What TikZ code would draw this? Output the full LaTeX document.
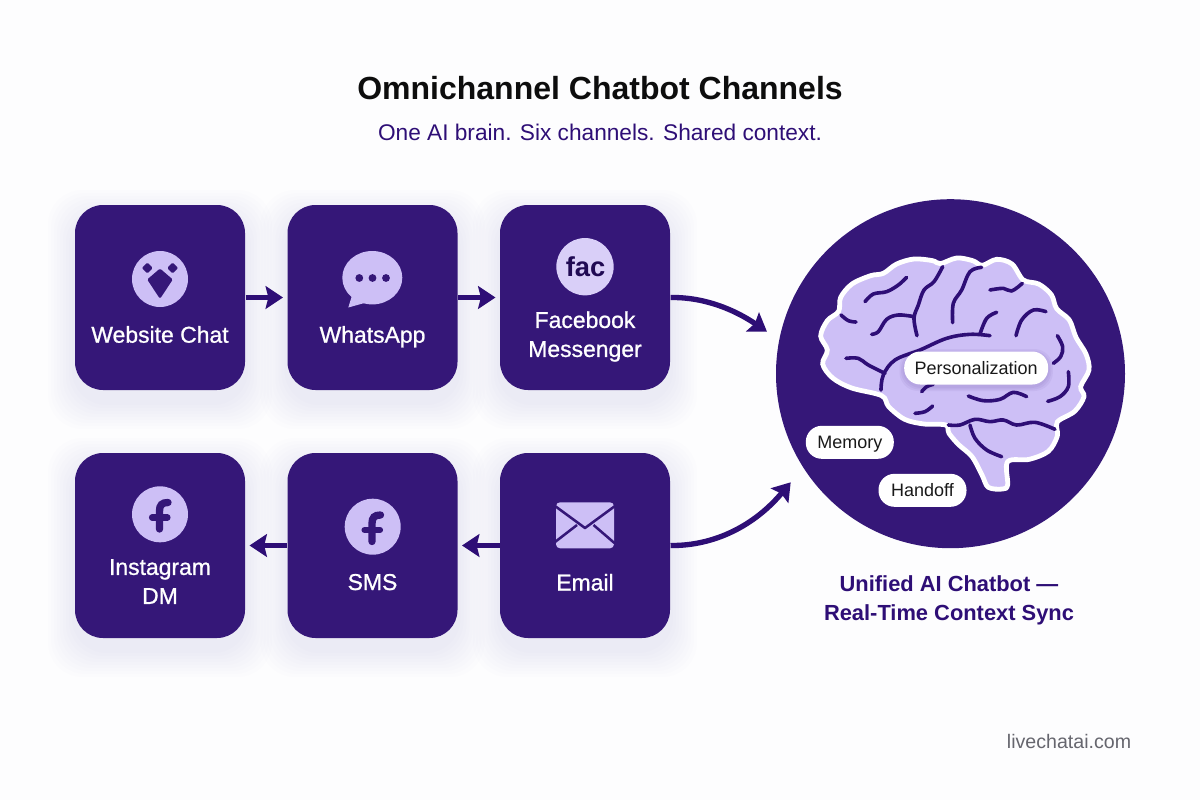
\documentclass[tikz,border=0pt]{standalone}
\usepackage{fontspec}
\setmainfont{Liberation Sans}
\newfontfamily\labelfont{Liberation Sans}[FakeBold=0.9]
\usetikzlibrary{arrows.meta}

\definecolor{pageWhite}{RGB}{253,253,254}
\definecolor{deepPurple}{RGB}{53,23,120}
\definecolor{inkPurple}{RGB}{46,14,118}
\definecolor{softLilac}{RGB}{205,191,246}
\definecolor{paleLilac}{RGB}{217,207,248}
\definecolor{glowLilac}{RGB}{140,105,240}
\definecolor{markGrey}{RGB}{102,102,110}

\tikzset{every picture/.style={line width=0.75pt}}
\tikzset{
	channelbox/.style={rectangle,rounded corners=21pt,fill=deepPurple,minimum width=127.5pt,minimum height=138.75pt,inner sep=0pt},
	boxglow/.style={fill=glowLilac,opacity=0.012,rounded corners=26pt},
	boxlabel/.style={text=white,align=center,inner sep=0pt,font=\labelfont\fontsize{17.2}{21.75}\selectfont},
	icondisc/.style={circle,fill=softLilac,minimum size=42pt,inner sep=0pt},
	icondark/.style={fill=deepPurple,rounded corners=1pt},
	fglyph/.style={draw=deepPurple,line width=5.5pt,line cap=round},
	flowarrow/.style={draw=inkPurple,line width=4pt,-{Stealth[length=13pt,width=17pt,inset=2pt]}},
	brainskin/.style={draw=white,line width=3.6pt,fill=softLilac},
	sulcus/.style={draw=inkPurple,line width=2.7pt,line cap=round,line join=round},
	tagpill/.style={rectangle,rounded corners=12pt,fill=white,text=black!90,inner sep=0pt,minimum height=24.75pt,text height=12pt,text depth=3pt,font=\fontsize{13.5}{16}\selectfont},
}

\begin{document}
\begin{tikzpicture}[x=0.75pt,y=0.75pt,yscale=-1,xscale=1]
	\useasboundingbox (0,0) rectangle (1200,800);
	\fill [pageWhite] (0,0) rectangle (1200,800);

	% Text Node
	\draw (600,88) node (titleText) [font=\bfseries\fontsize{24}{28}\selectfont,text=black!95] {Omnichannel Chatbot Channels};
	% Text Node
	\draw (600,132) node (subtitleText) [font=\fontsize{17}{21}\selectfont,text=inkPurple] {One AI brain. Six channels. Shared context.};

	%Shape: soft glow under the boxes
	\foreach \cx/\cy in {160/297.5,372.5/297.5,585/297.5,160/545.5,372.5/545.5,585/545.5}
		\foreach \g in {3,6,...,27}
			\fill [boxglow] (\cx-85-\g,\cy-92.5-\g+12) rectangle (\cx+85+\g,\cy+92.5+\g+12);

	%Shape: Rounded Rect
	\node (webBox) [channelbox] at (160,297.5) {};
	\node (whatsBox) [channelbox] at (372.5,297.5) {};
	\node (fbBox) [channelbox] at (585,297.5) {};
	\node (igBox) [channelbox] at (160,545.5) {};
	\node (smsBox) [channelbox] at (372.5,545.5) {};
	\node (mailBox) [channelbox] at (585,545.5) {};

	%Shape: Circle
	\node (brainDisc) [circle,fill=deepPurple,minimum size=261.75pt,inner sep=0pt] at (950.5,373.7) {};

	%Straight Lines
	\draw [flowarrow,shorten >=3pt] (webBox.east) -- (whatsBox.west);
	\draw [flowarrow,shorten >=3pt] (whatsBox.east) -- (fbBox.west);
	\draw [flowarrow,shorten >=3pt] (mailBox.west) -- (smsBox.east);
	\draw [flowarrow,shorten >=3pt] (smsBox.west) -- (igBox.east);

	\coordinate (fbEnd) at (767,331.7);
	\coordinate (mailEnd) at (790.7,482.3);
	%Curve Lines
	\draw [flowarrow] (fbBox.east) .. controls (705,297) and (735,310) .. (fbEnd);
	%Curve Lines
	\draw [flowarrow] (mailBox.east) .. controls (715,546) and (755,525) .. (mailEnd);

	%Shape: Website icon
	\node (webIcon) [icondisc] at (160,279) {};
	\fill [icondark] (160,268.5) -- (172.8,279.5) -- (160,298.8) -- (147.2,279.5) -- cycle;
	\fill [icondark] (147.3,262.5) -- (152.8,268) -- (147.3,273.5) -- (141.8,268) -- cycle;
	\fill [icondark] (172.7,262.5) -- (178.2,268) -- (172.7,273.5) -- (167.2,268) -- cycle;

	%Shape: Speech bubble
	\fill [softLilac] (372.3,277.7) ellipse (30 and 26.7);
	\fill [softLilac] (352.5,294) -- (348.3,307.5) -- (368,302) -- cycle;
	\fill [deepPurple] (359.3,278) circle (3.9);
	\fill [deepPurple] (372.5,278) circle (3.9);
	\fill [deepPurple] (386,278) circle (3.9);

	%Shape: Messenger icon
	\node (fbIcon) [icondisc,fill=paleLilac,minimum size=43pt] at (585,266.7) {};
	\draw (585.5,266.5) node (fbMark) [font=\bfseries\fontsize{20.5}{24}\selectfont,text=inkPurple!70!black,inner sep=0pt] {fac};

	%Shape: Instagram icon
	\node (igIcon) [icondisc] at (160,514.3) {};
	\draw [fglyph] (159.5,529) -- (159.5,511) .. controls (159.5,505) and (162,502.5) .. (168,502.5);
	\draw [fglyph,line width=4.6pt] (152,517.5) -- (167.5,517.5);

	%Shape: SMS icon
	\node (smsIcon) [icondisc] at (372.7,526.7) {};
	\draw [fglyph] (372,541.5) -- (372,523.5) .. controls (372,517.5) and (374.5,515) .. (380.5,515);
	\draw [fglyph,line width=4.6pt] (364.5,530) -- (380,530);

	%Shape: Envelope
	\fill [softLilac,rounded corners=3pt] (556,502.3) rectangle (614,548.3);
	\draw [draw=deepPurple,line width=1.9pt,line join=round] (555,506) -- (585,528) -- (615,506);
	\draw [draw=deepPurple,line width=1.9pt] (555,542) -- (577,525);
	\draw [draw=deepPurple,line width=1.9pt] (615,543.5) -- (593.5,525);

	% Text Node
	\draw (160,342.7) node (webLabel) [boxlabel,anchor=base] {Website Chat};
	% Text Node
	\draw (372.5,342.7) node (whatsLabel) [boxlabel,anchor=base] {WhatsApp};
	% Text Node
	\draw (585,336.5) node (fbLabel) [boxlabel] {Facebook\\Messenger};
	% Text Node
	\draw (160,581.5) node (igLabel) [boxlabel] {Instagram\\DM};
	% Text Node
	\draw (372.5,590) node (smsLabel) [boxlabel,anchor=base] {SMS};
	% Text Node
	\draw (585,590.5) node (mailLabel) [boxlabel,anchor=base] {Email};

	%Shape: Brain (traced at 3x, same frame as the crop)
	\begin{scope}[shift={(770,190)},scale=0.33333]
		\draw [brainskin] plot [smooth cycle,tension=0.55] coordinates {
			(335,617) (245,594) (188,564) (158,522) (172,480) (152,438) (172,392) (206,364)
			(212,322) (246,282) (302,257) (340,250) (380,222) (432,207) (488,212) (511,221)
			(560,204) (608,212) (637,226) (680,208) (726,222) (760,270) (806,282) (844,314)
			(860,356) (898,390) (918,442) (948,492) (957,540) (932,590) (942,620) (914,664)
			(862,696) (862,738) (835,784) (778,808) (713,815) (713,884) (698,897) (655,892)
			(636,855) (606,800) (566,764) (537,730) (527,705) (462,702) (404,688) (356,650)
		};
		%Curve Lines
		\draw [sulcus] plot [smooth,tension=0.6] coordinates {(285,335) (310,312) (350,305) (385,285) (410,262)};
		\draw [sulcus] plot [smooth,tension=0.6] coordinates {(518,230) (492,275) (462,300) (445,345) (432,385) (441,437)};
		\draw [sulcus] plot [smooth,tension=0.6] coordinates {(305,433) (325,425) (350,388) (385,375) (432,380)};
		\draw [sulcus] plot [smooth,tension=0.6] coordinates {(635,232) (600,245) (575,300) (550,340) (548,398)};
		\draw [sulcus] plot [smooth,tension=0.6] coordinates {(660,300) (700,295) (725,303) (757,280)};
		\draw [sulcus] plot [smooth,tension=0.6] coordinates {(213,375) (235,392) (258,396)};
		\draw [sulcus] plot [smooth,tension=0.6] coordinates {(680,367) (650,385) (630,432)};
		\draw [sulcus] plot [smooth,tension=0.6] coordinates {(333,600) (340,555) (375,510) (450,480) (530,445) (600,433) (660,437)};
		\draw [sulcus] plot [smooth,tension=0.6] coordinates {(228,505) (265,505) (295,525) (345,550)};
		\draw [sulcus] plot [smooth,tension=0.6] coordinates {(738,437) (755,390) (790,360) (828,365)};
		\draw [sulcus] plot [smooth,tension=0.6] coordinates {(862,437) (878,470) (872,500) (850,520)};
		\draw [sulcus] plot [smooth,tension=0.6] coordinates {(895,545) (895,590) (870,620) (833,634)};
		\draw [sulcus] plot [smooth,tension=0.6] coordinates {(595,618) (640,632) (690,628) (730,607) (770,620)};
		\draw [sulcus] plot [smooth,tension=0.6] coordinates {(455,605) (470,590) (490,583)};
		\draw [sulcus] plot [smooth,tension=0.6] coordinates {(435,670) (465,665) (488,648)};
		\draw [sulcus] plot [smooth,tension=0.6] coordinates {(535,705) (570,705) (615,688) (660,695) (700,690) (740,705) (795,697) (855,718)};
		\draw [sulcus] plot [smooth,tension=0.6] coordinates {(600,705) (615,745) (650,780) (695,800)};
	\end{scope}

	%Shape: soft edge of the upper tag
	\foreach \g in {1.5,3,4.5}
		\fill [deepPurple,opacity=0.05,rounded corners=14pt] (904-\g,351.5-\g+2) rectangle (1048.4+\g,384.5+\g+2);

	% Text Node
	\draw (976.2,368) node (personalTag) [tagpill,minimum width=108pt] {Personalization};
	% Text Node
	\draw (849.8,442.3) node (memoryTag) [tagpill,minimum width=66pt] {Memory};
	% Text Node
	\draw (922.5,490.3) node (handoffTag) [tagpill,minimum width=66pt] {Handoff};

	% Text Node
	\draw (949,600) node (syncCaption) [align=center,text=inkPurple,inner sep=0pt,font=\bfseries\fontsize{16.4}{21.75}\selectfont] {Unified AI Chatbot ---\\Real-Time Context Sync};

	% Text Node
	\draw (1069,741) node (brandMark) [text=markGrey,inner sep=0pt,font=\fontsize{14.7}{18}\selectfont] {livechatai.com};
\end{tikzpicture}
\end{document}
